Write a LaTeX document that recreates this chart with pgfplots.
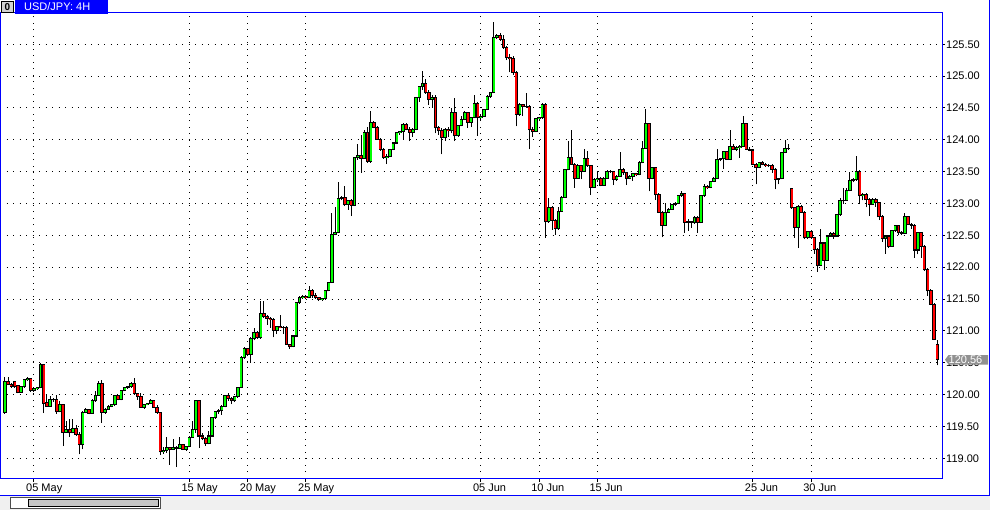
\documentclass[border=0pt]{standalone}
\usepackage{pgfplots}
\pgfplotsset{compat=1.18}
\usepackage{pgfplotstable}
\usepackage{fontspec}
\setmainfont{Liberation Sans}
\definecolor{mtblue}{RGB}{0,0,255}
\definecolor{bull}{RGB}{0,255,0}
\definecolor{bear}{RGB}{255,0,0}
\definecolor{scrollbg}{RGB}{240,240,240}
\definecolor{pricegray}{RGB}{145,145,145}

\pgfplotstableread{
i o h l c
0 119.72 120.28 119.70 120.20
1 120.20 120.28 120.15 120.16
2 120.16 120.18 120.11 120.13
3 120.20 120.21 120.10 120.12
4 120.14 120.15 120.02 120.04
5 120.04 120.13 120.03 120.12
6 120.12 120.24 120.10 120.23
7 120.23 120.28 120.21 120.25
8 120.25 120.26 120.04 120.07
9 120.07 120.10 120.04 120.09
10 120.09 120.12 120.07 120.11
11 120.11 120.49 120.10 120.47
12 120.47 120.48 119.71 119.86
13 119.87 119.99 119.81 119.82
14 119.82 119.98 119.81 119.92
15 119.92 119.95 119.89 119.93
16 119.93 119.99 119.70 119.73
17 119.73 119.90 119.72 119.85
18 119.85 119.86 119.19 119.41
19 119.41 119.58 119.40 119.45
20 119.45 119.61 119.34 119.40
21 119.40 119.61 119.39 119.47
22 119.47 119.53 119.35 119.38
23 119.38 119.41 119.06 119.21
24 119.21 119.74 119.14 119.72
25 119.72 119.79 119.71 119.76
26 119.76 119.77 119.69 119.71
27 119.71 119.93 119.70 119.90
28 119.90 120.05 119.89 119.99
29 119.99 120.22 119.98 120.17
30 120.17 120.23 119.56 119.72
31 119.72 119.79 119.70 119.77
32 119.77 119.83 119.76 119.82
33 119.82 119.85 119.80 119.84
34 119.84 119.99 119.82 119.98
35 119.98 120.00 119.91 119.92
36 119.92 120.08 119.91 120.06
37 120.06 120.12 120.05 120.11
38 120.11 120.13 120.09 120.12
39 120.12 120.19 120.11 120.17
40 120.17 120.26 120.00 120.01
41 120.01 120.02 119.92 119.97
42 119.97 120.03 119.79 119.80
43 119.80 119.85 119.78 119.84
44 119.84 119.87 119.83 119.86
45 119.86 119.93 119.85 119.90
46 119.90 119.91 119.79 119.80
47 119.80 119.84 119.70 119.72
48 119.72 119.73 119.05 119.10
49 119.10 119.17 119.07 119.13
50 119.13 119.33 119.09 119.17
51 119.17 119.18 118.90 119.14
52 119.14 119.30 119.13 119.17
53 119.17 119.19 118.86 119.16
54 119.16 119.33 119.15 119.21
55 119.21 119.22 119.13 119.14
56 119.14 119.20 119.12 119.18
57 119.18 119.35 119.17 119.33
58 119.33 119.58 119.32 119.45
59 119.45 119.92 119.40 119.90
60 119.90 119.92 119.16 119.35
61 119.35 119.40 119.28 119.31
62 119.31 119.33 119.20 119.23
63 119.23 119.43 119.22 119.35
64 119.35 119.65 119.34 119.64
65 119.64 119.75 119.62 119.74
66 119.74 119.77 119.70 119.75
67 119.75 119.84 119.68 119.82
68 119.82 120.00 119.80 119.98
69 119.98 120.02 119.90 119.94
70 119.94 119.96 119.85 119.90
71 119.90 119.98 119.88 119.97
72 119.97 120.12 119.95 120.11
73 120.11 120.60 120.10 120.58
74 120.58 120.74 120.56 120.72
75 120.72 120.73 120.60 120.63
76 120.63 120.90 120.50 120.88
77 120.88 121.05 120.85 120.97
78 120.97 121.00 120.88 120.90
79 120.90 121.47 120.88 121.28
80 121.28 121.47 121.20 121.22
81 121.22 121.25 121.10 121.20
82 121.20 121.22 121.05 121.18
83 121.18 121.20 120.90 121.01
84 121.01 121.08 120.95 121.07
85 121.07 121.25 121.04 121.05
86 121.05 121.07 120.95 121.06
87 121.06 121.07 120.78 120.79
88 120.79 120.80 120.72 120.75
89 120.75 120.93 120.74 120.92
90 120.92 121.45 120.90 121.44
91 121.44 121.55 121.43 121.52
92 121.52 121.56 121.50 121.54
93 121.54 121.56 121.50 121.52
94 121.52 121.70 121.51 121.63
95 121.63 121.65 121.52 121.55
96 121.55 121.60 121.50 121.52
97 121.52 121.53 121.47 121.49
98 121.49 121.52 121.47 121.51
99 121.51 121.64 121.50 121.63
100 121.63 121.77 121.62 121.76
101 121.76 122.85 121.75 122.51
102 122.51 122.95 122.50 122.54
103 122.54 123.33 122.53 123.08
104 123.08 123.12 123.05 123.09
105 123.09 123.27 122.96 122.98
106 122.98 123.06 122.90 123.05
107 123.05 123.07 122.80 122.97
108 122.97 123.73 122.96 123.72
109 123.72 123.93 123.69 123.76
110 123.76 124.08 123.48 123.71
111 123.71 124.15 123.70 124.11
112 124.11 124.20 123.64 123.66
113 123.66 124.45 123.64 124.27
114 124.27 124.30 124.18 124.19
115 124.19 124.22 124.00 124.01
116 124.01 124.03 123.83 123.85
117 123.85 123.87 123.70 123.72
118 123.72 123.78 123.62 123.74
119 123.74 123.86 123.73 123.85
120 123.85 123.97 123.84 123.95
121 123.95 124.12 123.94 124.11
122 124.11 124.14 124.08 124.13
123 124.13 124.26 124.00 124.24
124 124.24 124.26 124.15 124.16
125 124.16 124.20 123.98 124.12
126 124.12 124.18 124.05 124.16
127 124.16 124.67 124.15 124.66
128 124.66 124.85 124.60 124.83
129 124.83 125.08 124.78 124.88
130 124.88 124.95 124.72 124.74
131 124.74 124.78 124.55 124.63
132 124.63 124.70 124.50 124.67
133 124.67 124.70 124.10 124.19
134 124.19 124.22 124.08 124.14
135 124.14 124.18 123.77 124.03
136 124.03 124.18 123.98 124.16
137 124.16 124.20 124.05 124.14
138 124.14 124.50 124.10 124.43
139 124.43 124.66 123.98 124.06
140 124.06 124.23 124.05 124.22
141 124.22 124.37 124.21 124.32
142 124.32 124.45 124.31 124.43
143 124.43 124.44 124.19 124.27
144 124.27 124.36 124.20 124.35
145 124.35 124.70 124.34 124.57
146 124.57 124.60 124.06 124.35
147 124.35 124.40 124.30 124.37
148 124.37 124.49 124.36 124.48
149 124.48 124.70 124.47 124.68
150 124.68 124.75 124.66 124.74
151 124.74 125.85 124.73 125.60
152 125.60 125.66 125.58 125.64
153 125.64 125.68 125.55 125.58
154 125.58 125.64 125.43 125.45
155 125.45 125.47 125.25 125.29
156 125.29 125.35 125.06 125.27
157 125.27 125.31 125.02 125.06
158 125.06 125.08 124.21 124.40
159 124.40 124.58 124.38 124.55
160 124.55 124.56 124.37 124.53
161 124.53 124.74 124.50 124.52
162 124.52 124.54 123.85 124.16
163 124.16 124.20 124.05 124.13
164 124.13 124.34 124.12 124.33
165 124.33 124.36 124.30 124.35
166 124.35 124.58 124.33 124.55
167 124.55 124.58 122.46 122.71
168 122.71 123.09 122.70 122.94
169 122.94 122.96 122.59 122.73
170 122.73 122.75 122.51 122.60
171 122.60 122.94 122.59 122.88
172 122.88 123.12 122.87 123.10
173 123.10 123.54 123.09 123.53
174 123.53 123.98 123.52 123.72
175 123.72 124.16 123.61 123.62
176 123.62 123.64 123.25 123.40
177 123.40 123.62 123.39 123.59
178 123.59 123.60 123.38 123.51
179 123.51 123.85 123.50 123.71
180 123.71 123.82 123.58 123.59
181 123.59 123.60 123.13 123.25
182 123.25 123.40 123.24 123.38
183 123.38 123.51 123.33 123.40
184 123.40 123.41 123.27 123.29
185 123.29 123.41 123.28 123.40
186 123.40 123.52 123.39 123.51
187 123.51 123.53 123.48 123.50
188 123.50 123.51 123.29 123.38
189 123.38 123.44 123.36 123.43
190 123.43 123.81 123.42 123.53
191 123.53 123.55 123.45 123.48
192 123.48 123.50 123.29 123.40
193 123.40 123.44 123.38 123.42
194 123.42 123.48 123.36 123.47
195 123.47 123.48 123.43 123.45
196 123.45 123.67 123.44 123.64
197 123.64 123.98 123.63 123.87
198 123.87 124.48 123.86 124.25
199 124.25 124.27 123.19 123.39
200 123.39 123.57 123.38 123.56
201 123.56 123.58 123.06 123.14
202 123.14 123.16 122.85 122.86
203 122.86 122.88 122.47 122.66
204 122.66 123.01 122.65 122.86
205 122.86 122.93 122.85 122.91
206 122.91 123.00 122.90 122.99
207 122.99 123.02 122.96 123.00
208 123.00 123.13 122.99 123.12
209 123.12 123.19 123.11 123.15
210 123.15 123.16 122.54 122.70
211 122.70 122.75 122.57 122.71
212 122.71 122.73 122.62 122.70
213 122.70 122.80 122.68 122.78
214 122.78 122.80 122.54 122.70
215 122.70 123.13 122.69 123.12
216 123.12 123.30 123.11 123.27
217 123.27 123.29 123.22 123.25
218 123.25 123.36 123.24 123.35
219 123.35 123.41 123.34 123.40
220 123.40 123.85 123.39 123.69
221 123.69 123.72 123.66 123.70
222 123.70 123.82 123.54 123.81
223 123.81 123.83 123.68 123.69
224 123.69 124.16 123.68 123.90
225 123.90 123.93 123.84 123.85
226 123.85 123.90 123.82 123.88
227 123.88 123.92 123.72 123.90
228 123.90 124.37 123.89 124.25
229 124.25 124.27 123.84 123.85
230 123.85 123.88 123.82 123.84
231 123.84 123.85 123.60 123.62
232 123.62 123.64 123.30 123.56
233 123.56 123.65 123.55 123.64
234 123.64 123.66 123.60 123.62
235 123.62 123.63 123.58 123.60
236 123.60 123.62 123.57 123.59
237 123.59 123.62 123.48 123.54
238 123.54 123.55 123.22 123.38
239 123.38 123.40 123.30 123.39
240 123.39 123.81 123.38 123.80
241 123.80 123.99 123.79 123.87
242 123.87 123.94 123.84 123.86
243 123.24 123.25 122.92 122.93
244 122.93 122.95 122.46 122.63
245 122.63 122.98 122.30 122.96
246 122.96 122.98 122.85 122.86
247 122.86 122.88 122.44 122.46
248 122.46 122.57 122.45 122.56
249 122.56 122.58 122.45 122.46
250 122.46 122.48 122.21 122.28
251 122.28 122.30 121.93 122.03
252 122.03 122.60 122.02 122.38
253 122.38 122.40 121.96 122.11
254 122.11 122.50 122.10 122.49
255 122.49 122.56 122.48 122.53
256 122.53 122.55 122.45 122.49
257 122.49 122.83 122.48 122.82
258 122.82 123.09 122.81 123.04
259 123.04 123.25 123.00 123.05
260 123.05 123.25 123.04 123.20
261 123.20 123.50 123.19 123.36
262 123.36 123.40 123.33 123.37
263 123.37 123.74 123.36 123.51
264 123.51 123.52 122.99 123.12
265 123.12 123.16 123.05 123.14
266 123.14 123.16 122.94 123.06
267 123.06 123.08 122.80 122.99
268 122.99 123.08 122.98 123.06
269 123.06 123.08 122.95 123.01
270 123.01 123.03 122.74 122.79
271 122.79 122.82 122.40 122.45
272 122.45 122.50 122.21 122.49
273 122.49 122.51 122.30 122.33
274 122.33 122.58 122.32 122.57
275 122.57 122.66 122.56 122.65
276 122.65 122.67 122.50 122.54
277 122.54 122.57 122.50 122.53
278 122.53 122.85 122.52 122.79
279 122.79 122.80 122.66 122.67
280 122.67 122.70 122.60 122.66
281 122.66 122.68 122.15 122.27
282 122.27 122.55 122.20 122.54
283 122.54 122.56 122.15 122.33
284 122.33 122.35 121.94 121.96
285 121.96 121.98 121.55 121.63
286 121.63 121.65 121.40 121.42
287 121.42 121.44 120.86 120.87
288 120.79 120.85 120.46 120.55
}\candles

\pgfplotsset{
  candle/.style={only marks, mark=*, mark size=0.1pt, mark options={draw=none, fill=none, draw opacity=0, fill opacity=0}, forget plot},
}

\begin{document}
\begin{tikzpicture}[x=1bp,y=1bp]
\useasboundingbox (0,0) rectangle (990,-510);
\fill[white] (0,0) rectangle (990,-510);
\begin{axis}[
  at={(0,-20)}, anchor=north west,
  scale only axis, width=942bp, height=466bp,
  xmin=-1.5, xmax=289.45, ymin=118.679, ymax=125.995,
  axis line style={mtblue, line width=1bp},
  xtick={9,57,75,93,147,165,183,231,249},
  xticklabels={05 May,15 May,20 May,25 May,05 Jun,10 Jun,15 Jun,25 Jun,30 Jun},
  ytick={119,119.5,120,120.5,121,121.5,122,122.5,123,123.5,124,124.5,125,125.5},
  yticklabel={\pgfmathprintnumber[fixed,fixed zerofill,precision=2,assume math mode=true]{\tick}},
  xtick pos=bottom, ytick pos=right,
  tick align=outside, major tick length=3bp,
  tick style={black, line width=1bp},
  grid=major,
  major grid style={black, line width=1bp, dash pattern=on 1bp off 5.5bp},
  tick label style={font=\fontsize{11bp}{13bp}\selectfont},
  xticklabel style={anchor=north west, inner sep=0pt, xshift=-8bp, yshift=-2bp},
  yticklabel style={anchor=west, inner sep=0pt, xshift=1bp},
  clip=true,
]
% wicks
\addplot[candle, error bars/.cd, y dir=plus, y explicit, error mark=none,
  error bar style={black, line width=1bp}]
  table[x=i, y=l, y error expr=\thisrow{h}-\thisrow{l}] {\candles};
% body outlines
\addplot[candle, error bars/.cd, y dir=plus, y explicit, error mark=none,
  error bar style={black, line width=3.4bp}]
  table[x=i, y expr={min(\thisrow{o},\thisrow{c})-0.008}, y error expr={abs(\thisrow{c}-\thisrow{o})+0.016}] {\candles};
% bull fills
\addplot[candle, error bars/.cd, y dir=plus, y explicit, error mark=none,
  error bar style={bull, line width=1.9bp}]
  table[x=i, y expr={\thisrow{o}+0.008}, y error expr={max(\thisrow{c}-\thisrow{o}-0.016,0)}] {\candles};
% bear fills
\addplot[candle, error bars/.cd, y dir=plus, y explicit, error mark=none,
  error bar style={bear, line width=1.9bp}]
  table[x=i, y expr={\thisrow{c}+0.008}, y error expr={max(\thisrow{o}-\thisrow{c}-0.016,0)}] {\candles};
\end{axis}
% title tab
\fill[mtblue] (15,0) rectangle (108,-14);
\node[anchor=west, inner sep=0pt, text=white, font=\fontsize{11bp}{13bp}\selectfont] at (24,-7) {USD/JPY: 4H};
\fill[gray!35] (1,-1) rectangle (14,-13);
\draw[black, line width=0.8bp] (1.4,-1.4) rectangle (13.6,-12.6);
\node[inner sep=0pt, font=\bfseries\fontsize{10bp}{12bp}\selectfont] at (7.5,-7) {0};
% price label
\fill[pricegray] (945,-359.7) -- (948.5,-355) -- (988,-355) -- (988,-364.5) -- (948.5,-364.5) -- cycle;
\node[anchor=west, inner sep=0pt, text=white, font=\fontsize{11bp}{13bp}\selectfont] at (948.5,-359.8) {120.56};
% bottom scroll area
\fill[scrollbg] (0,-495) rectangle (990,-510);
\draw[mtblue, line width=1bp] (0,-495) -- (990,-495);
\draw[mtblue, line width=1bp] (989.5,0) -- (989.5,-495);
\fill[white] (10,-497.5) rectangle (160,-508.5);
\draw[black!70, line width=0.8bp] (10,-497.5) rectangle (160,-508.5);
\fill[gray!45] (28,-499.5) rectangle (158,-506.5);
\draw[black, line width=0.8bp] (28,-499.5) rectangle (158,-506.5);
\end{tikzpicture}
\end{document}
